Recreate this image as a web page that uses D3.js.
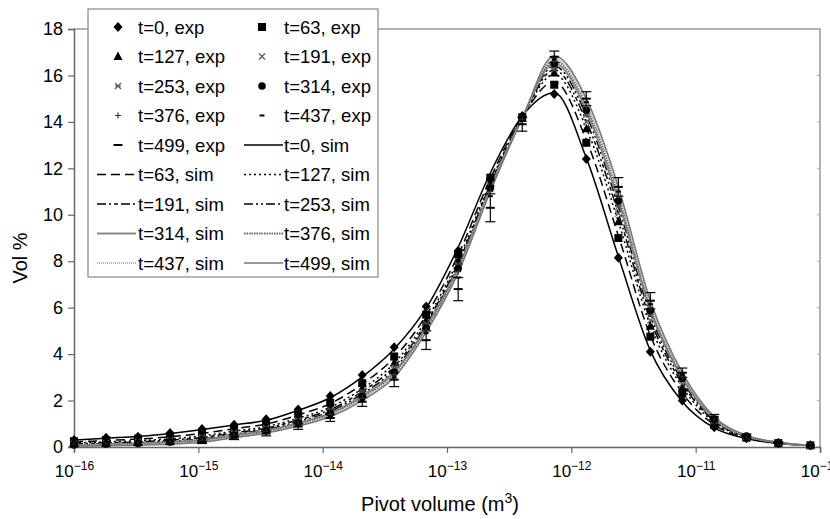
<!DOCTYPE html>
<html>
<head>
<meta charset="utf-8">
<script src="https://cdn.jsdelivr.net/npm/d3@7/dist/d3.min.js"></script>
<style>
  body { margin: 0; background: #fff; }
  svg text { font-family: "Liberation Sans", Arial, sans-serif; fill: #000; }
</style>
</head>
<body>
<div id="chart"></div>
<script>
// pivot volumes (m3)
var pivot = [1e-16, 1.81e-16, 3.27e-16, 5.92e-16, 1.07e-15, 1.94e-15, 3.51e-15, 6.35e-15,
  1.15e-14, 2.08e-14, 3.76e-14, 6.80e-14, 1.23e-13, 2.23e-13, 4.03e-13, 7.29e-13,
  1.32e-12, 2.39e-12, 4.32e-12, 7.81e-12, 1.41e-11, 2.56e-11, 4.62e-11, 8.37e-11];

var times = [0, 63, 127, 191, 253, 314, 376, 437, 499];

// experimental vol %
var exp0   = [0.30,0.40,0.44,0.60,0.78,0.96,1.20,1.62,2.20,3.10,4.30,6.05,8.45,11.55,14.25,15.20,12.40,8.15,4.10,2.00,0.85,0.38,0.16,0.08];
var exp63  = [0.25,0.30,0.36,0.46,0.62,0.80,1.02,1.40,1.90,2.75,3.90,5.70,8.30,11.60,14.20,15.60,13.10,9.00,4.75,2.30,0.95,0.40,0.17,0.07];
var exp127 = [0.18,0.24,0.28,0.36,0.50,0.70,0.90,1.25,1.72,2.52,3.62,5.45,8.00,11.35,14.15,16.10,13.70,9.70,5.20,2.55,1.05,0.43,0.18,0.07];
var exp191 = [0.14,0.18,0.23,0.31,0.42,0.62,0.82,1.15,1.60,2.38,3.45,5.30,7.85,11.25,14.15,16.25,14.00,10.05,5.45,2.72,1.12,0.45,0.18,0.06];
var exp253 = [0.10,0.14,0.18,0.25,0.35,0.55,0.74,1.08,1.52,2.28,3.32,5.20,7.78,11.20,14.15,16.40,14.30,10.35,5.70,2.85,1.17,0.46,0.19,0.06];
var exp314 = [0.09,0.12,0.15,0.21,0.31,0.50,0.70,1.03,1.45,2.18,3.22,5.12,7.70,11.15,14.15,16.50,14.50,10.60,5.88,2.95,1.20,0.47,0.19,0.06];
var exp376 = [0.07,0.09,0.13,0.18,0.27,0.46,0.66,0.98,1.40,2.10,3.12,5.02,7.55,11.00,14.10,16.60,14.70,10.80,6.00,3.05,1.24,0.48,0.19,0.06];
var exp437 = [0.05,0.07,0.10,0.15,0.23,0.43,0.62,0.93,1.33,2.02,3.00,4.90,7.30,10.80,14.05,16.70,14.85,11.00,6.15,3.12,1.27,0.49,0.20,0.06];
var exp499 = [0.03,0.05,0.08,0.12,0.20,0.40,0.58,0.88,1.25,1.95,2.90,4.60,6.80,10.30,13.90,16.80,15.00,11.20,6.30,3.20,1.30,0.50,0.20,0.06];
var err499 = [0,0,0,0,0.05,0.08,0.10,0.12,0.15,0.20,0.30,0.40,0.50,0.60,0.30,0.25,0.30,0.40,0.35,0.20,0.10,0.05,0.02,0];

// simulated vol %
var sim0   = [0.30,0.38,0.45,0.58,0.75,0.95,1.15,1.58,2.12,3.02,4.22,5.98,8.60,11.80,14.25,15.25,12.45,8.20,4.15,1.95,0.82,0.36,0.15,0.07];
var sim63  = [0.22,0.28,0.34,0.44,0.59,0.79,0.99,1.38,1.87,2.71,3.85,5.67,8.27,11.56,14.22,15.73,13.22,9.10,4.80,2.33,0.96,0.40,0.17,0.07];
var sim127 = [0.17,0.22,0.27,0.35,0.48,0.68,0.88,1.24,1.71,2.51,3.61,5.47,8.05,11.40,14.20,16.05,13.73,9.70,5.23,2.58,1.06,0.43,0.18,0.07];
var sim191 = [0.13,0.18,0.22,0.30,0.41,0.61,0.81,1.16,1.61,2.39,3.46,5.34,7.92,11.30,14.19,16.24,14.03,10.06,5.48,2.73,1.12,0.45,0.18,0.06];
var sim253 = [0.10,0.14,0.18,0.25,0.35,0.55,0.75,1.09,1.53,2.29,3.34,5.24,7.81,11.22,14.18,16.40,14.29,10.36,5.70,2.85,1.17,0.46,0.19,0.06];
var sim314 = [0.08,0.12,0.15,0.21,0.31,0.51,0.71,1.04,1.46,2.20,3.24,5.16,7.72,11.16,14.17,16.53,14.49,10.60,5.87,2.95,1.20,0.47,0.19,0.06];
var sim376 = [0.06,0.09,0.13,0.18,0.27,0.47,0.67,0.99,1.41,2.13,3.16,5.08,7.64,11.10,14.16,16.64,14.67,10.81,6.02,3.04,1.24,0.48,0.19,0.06];
var sim437 = [0.05,0.07,0.10,0.15,0.23,0.43,0.63,0.94,1.35,2.06,3.07,5.01,7.57,11.05,14.16,16.75,14.85,11.02,6.17,3.13,1.27,0.49,0.20,0.06];
var sim499 = [0.03,0.05,0.08,0.12,0.20,0.40,0.60,0.90,1.30,2.00,3.00,4.95,7.50,11.00,14.15,16.85,15.00,11.20,6.30,3.20,1.30,0.50,0.20,0.06];

var yTicks = [0, 2, 4, 6, 8, 10, 12, 14, 16, 18];
var xTicks = [1e-16, 1e-15, 1e-14, 1e-13, 1e-12, 1e-11, 1e-10];

var expSeries = [exp0, exp63, exp127, exp191, exp253, exp314, exp376, exp437, exp499];
var simSeries = [sim0, sim63, sim127, sim191, sim253, sim314, sim376, sim437, sim499];

// marker + line styles, one per time
var markers = ["diamond", "square", "triangle", "cross", "asterisk", "circle", "plus", "dash", "longdash"];
var simStyles = [
  { stroke: "#000", width: 1.5, dash: null },
  { stroke: "#000", width: 1.5, dash: "9,5" },
  { stroke: "#000", width: 1.5, dash: "2,3" },
  { stroke: "#000", width: 1.5, dash: "9,3,2,3,4,3" },
  { stroke: "#000", width: 1.5, dash: "9,3,2,3,2,3" },
  { stroke: "#8a8a8a", width: 2, dash: null },
  { stroke: "#666", width: 2, dash: "1.5,1" },
  { stroke: "#b0b0b0", width: 2, dash: "1,1" },
  { stroke: "#777", width: 1.5, dash: null }
];

var width = 830, height = 519;
var svg = d3.select("#chart").append("svg").attr("width", width).attr("height", height);

var x = d3.scaleLog().domain([1e-16, 1e-10]).range([74, 820]);
var y = d3.scaleLinear().domain([0, 18]).range([447, 29]);

// frame (top & right)
svg.append("path")
  .attr("d", "M" + x(1e-16) + "," + y(18) + "H" + x(1e-10) + "V" + y(0))
  .attr("fill", "none").attr("stroke", "#999").attr("stroke-width", 1.5);
svg.append("g").selectAll("line").data(yTicks).enter().append("line")
  .attr("x1", x(1e-10) - 3).attr("x2", x(1e-10))
  .attr("y1", function (d) { return y(d); }).attr("y2", function (d) { return y(d); })
  .attr("stroke", "#aaa");

// axes
var gx = svg.append("g").attr("transform", "translate(0," + y(0) + ")")
  .call(d3.axisBottom(x).tickValues(xTicks).tickSize(6).tickPadding(10).tickFormat(""));
var gy = svg.append("g").attr("transform", "translate(" + x(1e-16) + ",0)")
  .call(d3.axisLeft(y).tickValues(yTicks).tickSize(6).tickPadding(5));
[gx, gy].forEach(function (g) {
  g.select(".domain").attr("stroke", "#666").attr("stroke-width", 1.5);
  g.selectAll(".tick line").attr("stroke", "#666").attr("stroke-width", 1.2);
});
gy.selectAll(".tick text").attr("font-size", "18px").attr("font-family", "Liberation Sans, Arial, sans-serif").attr("fill", "#000");

gx.selectAll(".tick").each(function (d) {
  var t = d3.select(this).append("text").attr("y", 30).attr("text-anchor", "middle")
    .attr("font-size", "17px").attr("fill", "#000");
  t.append("tspan").text("10");
  t.append("tspan").attr("dy", -7).attr("font-size", "12px").text("\u2212" + Math.round(-Math.log10(d)));
});

// axis titles
svg.append("text").attr("transform", "translate(27,258) rotate(-90)")
  .attr("text-anchor", "middle").attr("font-size", "20px").text("Vol %");
var xt = svg.append("text").attr("x", 440).attr("y", 511).attr("text-anchor", "middle").attr("font-size", "20px");
xt.append("tspan").text("Pivot volume (m");
xt.append("tspan").attr("dy", -8).attr("font-size", "14px").text("3");
xt.append("tspan").attr("dy", 8).text(")");

// sim curves
var line = d3.line()
  .x(function (d, i) { return x(pivot[i]); })
  .y(function (d) { return y(d); })
  .curve(d3.curveMonotoneX);

var plot = svg.append("g");
simSeries.forEach(function (s, i) {
  var st = simStyles[i];
  plot.append("path").datum(s).attr("d", line)
    .attr("fill", "none").attr("stroke", st.stroke).attr("stroke-width", st.width)
    .attr("stroke-dasharray", st.dash);
});

// error bars for last exp series
var eb = plot.append("g").attr("stroke", "#000").attr("stroke-width", 1.2);
exp499.forEach(function (v, i) {
  var e = err499[i];
  if (!e) return;
  var cx = x(pivot[i]);
  eb.append("line").attr("x1", cx).attr("x2", cx).attr("y1", y(v + e)).attr("y2", y(v - e));
  eb.append("line").attr("x1", cx - 5).attr("x2", cx + 5).attr("y1", y(v - e)).attr("y2", y(v - e));
  eb.append("line").attr("x1", cx - 5).attr("x2", cx + 5).attr("y1", y(v + e)).attr("y2", y(v + e));
});

function drawMarker(g, type, cx, cy) {
  switch (type) {
    case "diamond":
      g.append("path").attr("d", "M" + cx + "," + (cy - 5) + "L" + (cx + 4.5) + "," + cy + "L" + cx + "," + (cy + 5) + "L" + (cx - 4.5) + "," + cy + "Z").attr("fill", "#000");
      break;
    case "square":
      g.append("rect").attr("x", cx - 4).attr("y", cy - 4).attr("width", 8).attr("height", 8).attr("fill", "#000");
      break;
    case "triangle":
      g.append("path").attr("d", "M" + cx + "," + (cy - 5) + "L" + (cx + 4.5) + "," + (cy + 3.5) + "L" + (cx - 4.5) + "," + (cy + 3.5) + "Z").attr("fill", "#000");
      break;
    case "cross":
      g.append("path").attr("d", "M" + (cx - 3) + "," + (cy - 3) + "L" + (cx + 3) + "," + (cy + 3) + "M" + (cx + 3) + "," + (cy - 3) + "L" + (cx - 3) + "," + (cy + 3)).attr("stroke", "#555").attr("stroke-width", 1.2);
      break;
    case "asterisk":
      g.append("path").attr("d", "M" + (cx - 3) + "," + (cy - 3) + "L" + (cx + 3) + "," + (cy + 3) + "M" + (cx + 3) + "," + (cy - 3) + "L" + (cx - 3) + "," + (cy + 3) + "M" + (cx - 3) + "," + cy + "H" + (cx + 3)).attr("stroke", "#555").attr("stroke-width", 1.2);
      break;
    case "circle":
      g.append("circle").attr("cx", cx).attr("cy", cy).attr("r", 3.8).attr("fill", "#000");
      break;
    case "plus":
      g.append("path").attr("d", "M" + (cx - 3) + "," + cy + "H" + (cx + 3) + "M" + cx + "," + (cy - 3) + "V" + (cy + 3)).attr("stroke", "#333").attr("stroke-width", 1.2);
      break;
    case "dash":
      g.append("path").attr("d", "M" + (cx - 2.5) + "," + cy + "H" + (cx + 2.5)).attr("stroke", "#000").attr("stroke-width", 2);
      break;
    case "longdash":
      g.append("path").attr("d", "M" + (cx - 4.5) + "," + cy + "H" + (cx + 4.5)).attr("stroke", "#000").attr("stroke-width", 2);
      break;
  }
}

var mk = plot.append("g");
expSeries.forEach(function (s, i) {
  s.forEach(function (v, k) {
    drawMarker(mk, markers[i], x(pivot[k]), y(v));
  });
});

// legend
var lg = svg.append("g");
lg.append("rect").attr("x", 88).attr("y", 9).attr("width", 290).attr("height", 268)
  .attr("fill", "#fff").attr("stroke", "#888").attr("stroke-width", 1.2);

var entries = [];
times.forEach(function (t, i) { entries.push({ kind: "exp", i: i, label: "t=" + t + ", exp" }); });
times.forEach(function (t, i) { entries.push({ kind: "sim", i: i, label: "t=" + t + ", sim" }); });

entries.forEach(function (e, n) {
  var col = n % 2, row = Math.floor(n / 2);
  var cy = 27 + row * 29.5;
  var mx = col === 0 ? 118 : 262;
  var lx0 = col === 0 ? 97 : 244;
  var tx = col === 0 ? 138 : 284;
  if (e.kind === "exp") {
    drawMarker(lg, markers[e.i], mx, cy);
  } else {
    var st = simStyles[e.i];
    lg.append("line").attr("x1", lx0).attr("x2", lx0 + 39).attr("y1", cy).attr("y2", cy)
      .attr("stroke", st.stroke).attr("stroke-width", st.width).attr("stroke-dasharray", st.dash);
  }
  lg.append("text").attr("x", tx).attr("y", cy + 6.5).attr("font-size", "18.5px").text(e.label);
});
</script>
</body>
</html>
